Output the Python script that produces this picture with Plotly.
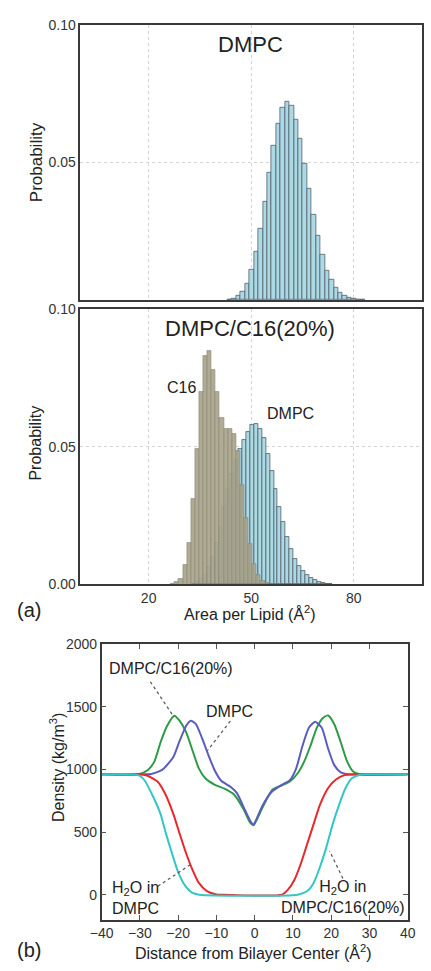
import plotly.graph_objects as go

# ---------------- data: panel (a) histograms ----------------
# top panel: pure DMPC area-per-lipid histogram
dmpc_top_first_center = 43.65
dmpc_top_bin = 1.3
dmpc_top_prob = [0.0002, 0.0005, 0.0015, 0.0032, 0.0061, 0.011, 0.0175, 0.026, 0.0357,
                 0.0464, 0.056, 0.064, 0.0698, 0.0721, 0.0706, 0.0656, 0.0585, 0.0495,
                 0.0406, 0.0311, 0.0233, 0.0165, 0.0108, 0.0073, 0.0046, 0.0027, 0.0015,
                 0.0008, 0.0005, 0.0003, 0.0002]

# lower panel: DMPC/C16(20%) mixture
mix_dmpc_first_center = 33.05
mix_dmpc_bin = 1.15
mix_dmpc_prob = [0.0003, 0.0008, 0.0018, 0.0035, 0.0062, 0.010, 0.015, 0.021, 0.028,
                 0.0345, 0.040, 0.045, 0.049, 0.0525, 0.0555, 0.058, 0.0583, 0.0565,
                 0.053, 0.0475, 0.041, 0.0345, 0.028, 0.0225, 0.0172, 0.0128, 0.0092,
                 0.0066, 0.0048, 0.0034, 0.0024, 0.0016, 0.001, 0.0006, 0.0003, 0.0002]

mix_c16_first_center = 27.0
mix_c16_bin = 1.2
mix_c16_prob = [0.0003, 0.0008, 0.002, 0.007, 0.015, 0.031, 0.049, 0.070, 0.083, 0.0847,
                0.078, 0.070, 0.0605, 0.0563, 0.0563, 0.0545, 0.0486, 0.036, 0.024,
                0.0145, 0.0075, 0.0035, 0.0012, 0.0004]

hist_x_ticks = [20, 50, 80]
prob_ticks_top = [0.05, 0.10]
prob_ticks_bottom = [0.00, 0.05, 0.10]

# ---------------- data: panel (b) density profiles ----------------
dmpc_x = [-40, -30, -27, -25, -23.75, -21.25, -19.6, -17.9, -16.7, -15.4, -13.75, -12.1,
          -10.4, -8.75, -6.25, -4.6, -2.9, -1.25, -0.3, 0.4, 2.1, 4.6, 7.1, 9.2, 10.8,
          12.5, 14.2, 15.8, 17.5, 19.2, 20.8, 22.5, 24.6, 40]
dmpc_y = [962, 962, 965, 985, 1009, 1100, 1230, 1350, 1390, 1365, 1250, 1115,
          990, 910, 860, 810, 700, 595, 560, 600, 715, 826, 878, 915, 1005,
          1190, 1335, 1382, 1335, 1166, 1035, 977, 962, 962]

mix_x = [-40, -30.4, -27.9, -26.25, -24.6, -22.9, -21.0, -19.6, -17.9, -16.25, -14.6,
         -12.9, -10.4, -7.9, -5.4, -2.9, -1.25, -0.3, 0.4, 2.1, 4.6, 7.1, 9.2, 11.25,
         12.9, 14.6, 16.25, 17.9, 19.2, 20.8, 22.5, 24.2, 25.8, 27.5, 40]
mix_y = [962, 962, 996, 1061, 1218, 1348, 1430, 1388, 1296, 1152, 1009,
         930, 878, 847, 800, 682, 578, 555, 590, 700, 839, 873, 904, 970,
         1061, 1192, 1335, 1413, 1432, 1362, 1218, 1061, 982, 962, 962]

h2o_dmpc_x = [-40, -30.4, -28, -25.4, -23.3, -21.25, -19.6, -17.9, -16.25, -14.6, -12.5,
              -10, -8, 7.1, 8.75, 10.4, 12.1, 13.75, 15.4, 17.1, 19.2, 21.25, 23.5, 26, 40]
h2o_dmpc_y = [962, 962, 950, 904, 800, 643, 486, 329, 198, 94, 29,
              2, 0, 0, 42, 120, 251, 408, 564, 721, 852, 920, 955, 962, 962]

h2o_mix_x = [-40, -32, -30, -28.75, -26.5, -24.6, -23.3, -21.6, -19.9, -18.1, -16.4,
             -14.5, 11.25, 13.75, 15.4, 17.1, 18.75, 20.4, 22.1, 23.75, 25.4, 27.5, 29, 40]
h2o_mix_y = [962, 962, 950, 912, 780, 643, 500, 329, 172, 68, 16,
             0, 0, 29, 94, 225, 382, 564, 721, 852, 930, 958, 962, 962]

dist_ticks = [-40, -30, -20, -10, 0, 10, 20, 30, 40]
density_ticks = [0, 500, 1000, 1500, 2000]

# ---------------- figure ----------------
W, H = 431, 971
FONT = "Liberation Sans, Arial, Helvetica, sans-serif"
def px(x):
    return x / W
def py(y):
    return 1 - y / H

fig = go.Figure()

blue_fill = "#add8e6"
blue_edge = "#4f5f68"

fig.add_trace(go.Bar(x0=dmpc_top_first_center, dx=dmpc_top_bin, y=dmpc_top_prob,
                     width=dmpc_top_bin, xaxis="x", yaxis="y",
                     marker=dict(color=blue_fill, line=dict(color=blue_edge, width=0.8)),
                     showlegend=False))
fig.add_trace(go.Bar(x0=mix_dmpc_first_center, dx=mix_dmpc_bin, y=mix_dmpc_prob,
                     width=mix_dmpc_bin, xaxis="x2", yaxis="y2",
                     marker=dict(color=blue_fill, line=dict(color=blue_edge, width=0.8)),
                     showlegend=False))
fig.add_trace(go.Bar(x0=mix_c16_first_center, dx=mix_c16_bin, y=mix_c16_prob,
                     width=mix_c16_bin, xaxis="x2", yaxis="y2",
                     marker=dict(color="rgba(168,164,140,0.92)",
                                 line=dict(color="rgba(140,137,118,0.9)", width=0.7)),
                     showlegend=False))

line_w = 2
fig.add_trace(go.Scatter(x=mix_x, y=mix_y, mode="lines", xaxis="x3", yaxis="y3",
                         line=dict(color="#2f9a45", width=line_w, shape="spline", smoothing=0.6),
                         showlegend=False))
fig.add_trace(go.Scatter(x=dmpc_x, y=dmpc_y, mode="lines", xaxis="x3", yaxis="y3",
                         line=dict(color="#5b5bc0", width=line_w, shape="spline", smoothing=0.6),
                         showlegend=False))
fig.add_trace(go.Scatter(x=h2o_dmpc_x, y=h2o_dmpc_y, mode="lines", xaxis="x3", yaxis="y3",
                         line=dict(color="#e8282c", width=line_w, shape="spline", smoothing=0.6),
                         showlegend=False))
fig.add_trace(go.Scatter(x=h2o_mix_x, y=h2o_mix_y, mode="lines", xaxis="x3", yaxis="y3",
                         line=dict(color="#33c6c6", width=line_w, shape="spline", smoothing=0.6),
                         showlegend=False))

frame = dict(showline=True, mirror=True, linecolor="#3a3a3a", linewidth=1.5, zeroline=False)
tickfont = dict(family=FONT, size=14, color="#333")
grid = dict(showgrid=True, griddash="dot", gridcolor="#d4d4d4", gridwidth=1)

hx_dom = [px(71.6), px(430)]

fig.update_layout(
    width=W, height=H,
    margin=dict(l=0, r=0, t=0, b=0),
    paper_bgcolor="white", plot_bgcolor="white",
    barmode="overlay", bargap=0,
    font=dict(family=FONT, color="#333"),
    xaxis=dict(domain=hx_dom, anchor="y", range=[0, 100], tickvals=hist_x_ticks,
               showticklabels=False, ticks="", **grid, **frame),
    yaxis=dict(domain=[py(297), py(17)], anchor="x", range=[0, 0.1],
               tickvals=prob_ticks_top, ticktext=["%.2f" % v for v in prob_ticks_top],
               tickfont=tickfont, ticks="", **grid, **frame),
    xaxis2=dict(domain=hx_dom, anchor="y2", range=[0, 100], tickvals=hist_x_ticks,
                tickfont=tickfont, ticks="", **grid, **frame),
    yaxis2=dict(domain=[py(586), py(306)], anchor="x2", range=[0, 0.1],
                tickvals=prob_ticks_bottom, ticktext=["%.2f" % v for v in prob_ticks_bottom],
                tickfont=tickfont, ticks="", **grid, **frame),
    xaxis3=dict(domain=[px(94), px(415)], anchor="y3", range=[-40, 40], tickvals=dist_ticks,
                tickfont=tickfont, showgrid=False, ticks="inside", ticklen=5,
                tickcolor="#555", **{**frame, "mirror": "allticks"}),
    yaxis3=dict(domain=[py(927), py(647)], anchor="x3", range=[-200, 2000],
                tickvals=density_ticks, tickfont=tickfont, showgrid=False,
                ticks="inside", ticklen=5, tickcolor="#555",
                **{**frame, "mirror": "allticks"}),
)

def ann(text, x, y, size, angle=0, **kw):
    fig.add_annotation(text=text, x=px(x), y=py(y), xref="paper", yref="paper",
                       showarrow=False, textangle=angle, xanchor="center", yanchor="middle",
                       font=dict(family=FONT, size=size, color="#222"), **kw)

ann("DMPC", 250, 37, 22)
ann("DMPC/C16(20%)", 250, 326, 22)
ann("C16", 178, 386, 16)
ann("DMPC", 292, 412, 16)
ann("Probability", 26, 157, 17, angle=-90)
ann("Probability", 25, 442, 16, angle=-90)
ann("Area per Lipid (Å<sup>2</sup>)", 250, 615, 16)
ann("(a)", 18, 612, 20)
ann("Density (kg/m<sup>3</sup>)", 48, 772, 16, angle=-90)
ann("Distance from Bilayer Center (Å<sup>2</sup>)", 253, 960, 16)
ann("(b)", 18, 958, 20)
ann("DMPC/C16(20%)", 167, 672, 16)
ann("DMPC", 228, 715, 16)
ann("H<sub>2</sub>O in<br>DMPC", 129, 905, 16)
ann("H<sub>2</sub>O in<br>DMPC/C16(20%)", 347, 904, 16)

def leader(x0, y0, x1, y1):
    fig.add_shape(type="line", xref="paper", yref="paper",
                  x0=px(x0), y0=py(y0), x1=px(x1), y1=py(y1),
                  line=dict(color="#555", width=1.2, dash="dot"))

leader(145, 685, 170, 721)
leader(229, 725, 205, 755)
leader(153, 893, 187, 871)
leader(347, 885, 333, 857)

fig.write_html("out.html")
